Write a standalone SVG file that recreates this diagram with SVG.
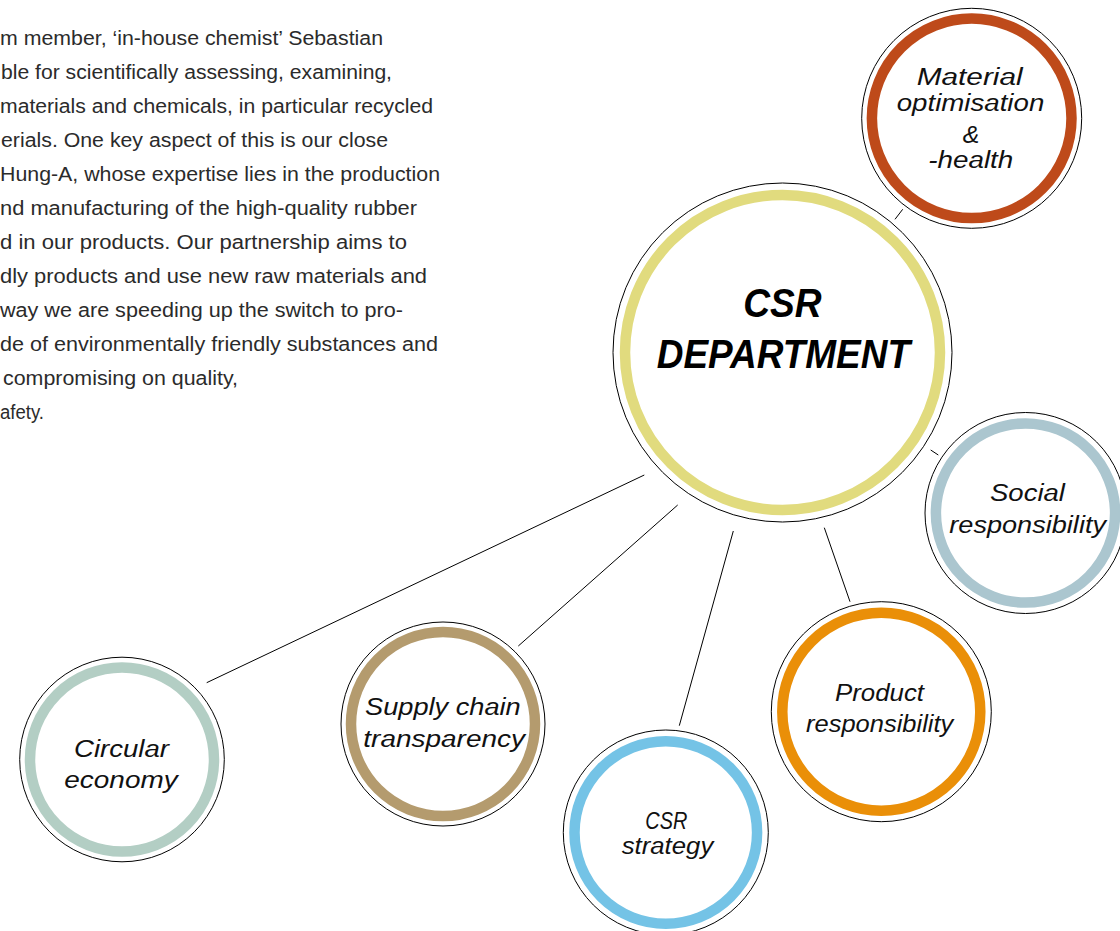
<svg xmlns="http://www.w3.org/2000/svg" width="1120" height="931" viewBox="0 0 1120 931">
<style>
.body{font-family:"Liberation Sans",Arial,sans-serif;font-size:20px;fill:#2b2b2b}
.lbl{font-family:"Liberation Sans",Arial,sans-serif;font-style:italic;font-size:23px;fill:#111}
.title{font-family:"Liberation Sans",Arial,sans-serif;font-style:italic;font-weight:bold;font-size:41px;fill:#000}
.outer{fill:#fff;stroke:#000;stroke-width:1}
.ring{fill:none;stroke-width:10.5}
.conn line{stroke:#000;stroke-width:1}
</style>
<rect width="1120" height="931" fill="#fff"/>
<g id="bodytext" class="body">
<text x="0" y="45" textLength="383" lengthAdjust="spacingAndGlyphs">m member, ‘in-house chemist’ Sebastian</text>
<text x="1" y="79" textLength="391" lengthAdjust="spacingAndGlyphs">ble for scientifically assessing, examining,</text>
<text x="0" y="113" textLength="433" lengthAdjust="spacingAndGlyphs">materials and chemicals, in particular recycled</text>
<text x="1" y="147" textLength="387" lengthAdjust="spacingAndGlyphs">erials. One key aspect of this is our close</text>
<text x="0" y="181" textLength="440" lengthAdjust="spacingAndGlyphs">Hung-A, whose expertise lies in the production</text>
<text x="0" y="215" textLength="417" lengthAdjust="spacingAndGlyphs">nd manufacturing of the high-quality rubber</text>
<text x="0" y="249" textLength="407" lengthAdjust="spacingAndGlyphs">d in our products. Our partnership aims to</text>
<text x="0" y="283" textLength="427" lengthAdjust="spacingAndGlyphs">dly products and use new raw materials and</text>
<text x="0" y="317" textLength="403" lengthAdjust="spacingAndGlyphs">way we are speeding up the switch to pro-</text>
<text x="0" y="351" textLength="438" lengthAdjust="spacingAndGlyphs">de of environmentally friendly substances and</text>
<text x="3" y="385" textLength="235" lengthAdjust="spacingAndGlyphs">compromising on quality,</text>
<text x="0" y="419" textLength="44" lengthAdjust="spacingAndGlyphs">afety.</text>
</g>
<g id="connectors" class="conn">
<line x1="895" y1="219.3" x2="902.7" y2="209.3"/>
<line x1="930.7" y1="450" x2="938.3" y2="455"/>
<line x1="206.7" y1="682.7" x2="644.3" y2="475"/>
<line x1="518.3" y1="646" x2="677.7" y2="505"/>
<line x1="679.3" y1="725.7" x2="733.3" y2="531"/>
<line x1="850" y1="601.7" x2="824.3" y2="527.7"/>
</g>
<g id="csr-department">
<circle class="outer" cx="782.5" cy="352.5" r="169.5"/>
<circle class="ring" cx="782.5" cy="352.5" r="157.5" stroke="#E1DB7E" stroke-width="13"/>
<text class="title" x="743.3" y="316.7" textLength="78.4" lengthAdjust="spacingAndGlyphs">CSR</text>
<text class="title" x="656.7" y="367.7" textLength="253.3" lengthAdjust="spacingAndGlyphs">DEPARTMENT</text>
</g>
<g id="material">
<circle class="outer" cx="971.7" cy="118.3" r="110"/>
<circle class="ring" cx="971.7" cy="118.3" r="99.8" stroke="#BE4A1A"/>
<text class="lbl" x="916.7" y="85" textLength="106" lengthAdjust="spacingAndGlyphs">Material</text>
<text class="lbl" x="896.7" y="111" textLength="147.6" lengthAdjust="spacingAndGlyphs">optimisation</text>
<text class="lbl" x="962.7" y="142.7" textLength="16.6" lengthAdjust="spacingAndGlyphs" font-style="normal">&amp;</text>
<text class="lbl" x="928.3" y="168.3" textLength="85" lengthAdjust="spacingAndGlyphs">-health</text>
</g>
<g id="social">
<circle class="outer" cx="1025.5" cy="513" r="100.5"/>
<circle class="ring" cx="1025.5" cy="513" r="89.6" stroke="#ABC6CF"/>
<text class="lbl" x="990" y="500.7" textLength="75" lengthAdjust="spacingAndGlyphs">Social</text>
<text class="lbl" x="949.3" y="533.3" textLength="156.7" lengthAdjust="spacingAndGlyphs">responsibility</text>
</g>
<g id="product">
<circle class="outer" cx="881.3" cy="711.7" r="110"/>
<circle class="ring" cx="881.3" cy="711.7" r="99" stroke="#EA8F08"/>
<text class="lbl" x="835" y="701" textLength="89" lengthAdjust="spacingAndGlyphs">Product</text>
<text class="lbl" x="806" y="731.7" textLength="147.3" lengthAdjust="spacingAndGlyphs">responsibility</text>
</g>
<g id="csr-strategy">
<circle class="outer" cx="665.8" cy="832.5" r="102.5"/>
<circle class="ring" cx="665.8" cy="832.5" r="91.3" stroke="#74C3E6"/>
<text class="lbl" x="645.3" y="828.5" textLength="42" lengthAdjust="spacingAndGlyphs" font-size="22">CSR</text>
<text class="lbl" x="621.7" y="853.5" textLength="91.6" lengthAdjust="spacingAndGlyphs">strategy</text>
</g>
<g id="supply-chain">
<circle class="outer" cx="443" cy="724" r="102"/>
<circle class="ring" cx="443" cy="724" r="92" stroke="#B49B6E" stroke-width="10"/>
<text class="lbl" x="365" y="715" textLength="155.7" lengthAdjust="spacingAndGlyphs">Supply chain</text>
<text class="lbl" x="363.3" y="746.7" textLength="161.7" lengthAdjust="spacingAndGlyphs">transparency</text>
</g>
<g id="circular-economy">
<circle class="outer" cx="122" cy="759.5" r="102.3"/>
<circle class="ring" cx="122" cy="759.5" r="92" stroke="#B3CEC4" stroke-width="10"/>
<text class="lbl" x="74" y="757.3" textLength="95" lengthAdjust="spacingAndGlyphs">Circular</text>
<text class="lbl" x="64.3" y="788" textLength="113.4" lengthAdjust="spacingAndGlyphs">economy</text>
</g>
</svg>
